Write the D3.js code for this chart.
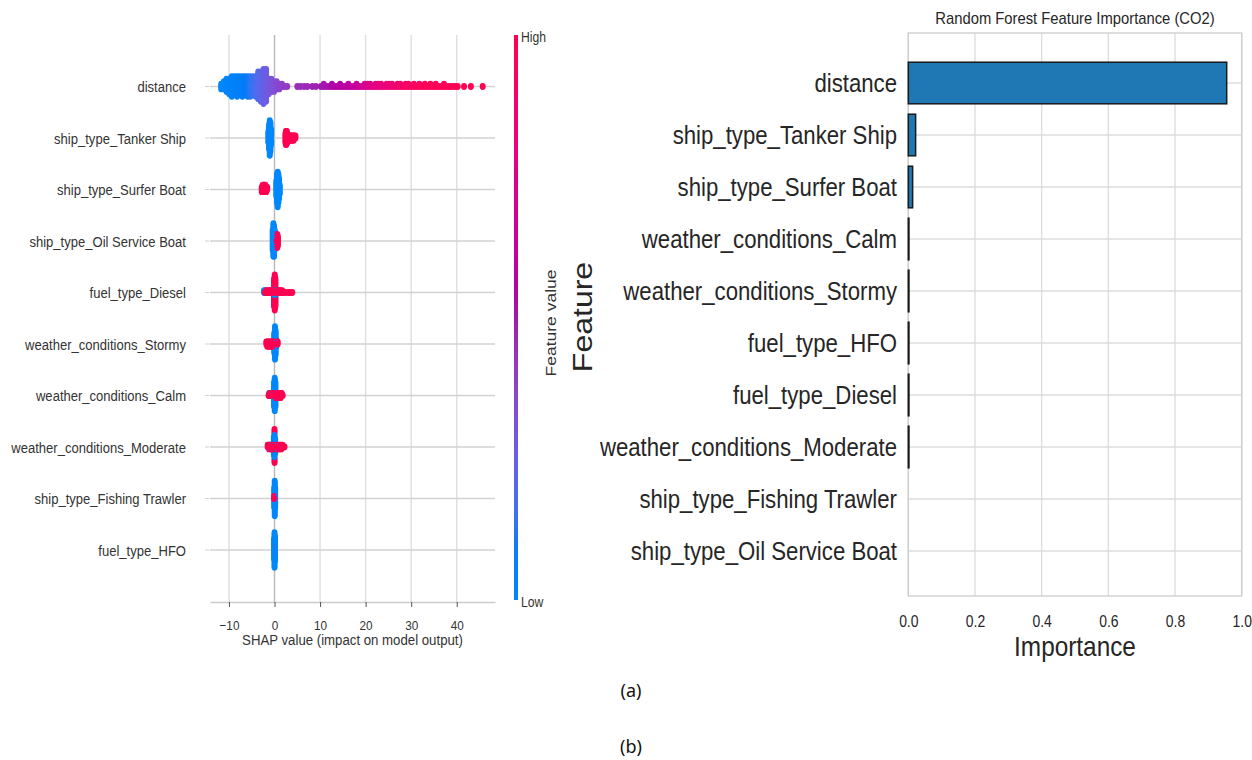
<!DOCTYPE html>
<html>
<head>
<meta charset="utf-8">
<script src="https://cdn.jsdelivr.net/npm/d3@7"></script>
<style>
  body { margin: 0; background: #ffffff; }
  svg { display: block; }
</style>
</head>
<body>
<svg id="fig" width="1252" height="760"></svg>
<script>
// ---------------- data: SHAP beeswarm (panel a) ----------------
// Each entry: [SHAP value, number of samples, normalised feature value 0..1]
const shapFeatures = [
  "distance",
  "ship_type_Tanker Ship",
  "ship_type_Surfer Boat",
  "ship_type_Oil Service Boat",
  "fuel_type_Diesel",
  "weather_conditions_Stormy",
  "weather_conditions_Calm",
  "weather_conditions_Moderate",
  "ship_type_Fishing Trawler",
  "fuel_type_HFO"
];

const shapDistance = [
  [-11.7, 3, 0.02], [-11.12, 4, 0.02], [-10.54, 6, 0.03], [-9.96, 7, 0.03], [-9.38, 9, 0.04],
  [-8.8, 8, 0.05], [-8.22, 9, 0.05], [-7.64, 8, 0.06], [-7.06, 9, 0.07], [-6.48, 8, 0.08],
  [-5.9, 9, 0.1], [-5.32, 9, 0.12], [-4.74, 8, 0.14], [-4.16, 9, 0.17], [-3.58, 12, 0.2],
  [-3.0, 13, 0.22], [-2.42, 15, 0.24], [-1.84, 14, 0.26], [-1.26, 7, 0.29], [-0.68, 6, 0.31],
  [-0.1, 5, 0.33], [0.48, 4, 0.35], [1.06, 3, 0.37], [1.64, 2, 0.39], [2.22, 1, 0.4], [2.8, 1, 0.41],
  [5.0, 1, 0.45], [5.7, 1, 0.46], [6.5, 1, 0.46], [7.2, 1, 0.47], [8.3, 1, 0.48], [9.1, 1, 0.48],
  [10.2, 1, 0.5], [10.8, 2, 0.5], [11.4, 1, 0.52], [12.0, 1, 0.53], [12.6, 2, 0.54], [13.2, 1, 0.55],
  [13.8, 1, 0.56], [14.4, 2, 0.57], [15.0, 1, 0.58], [15.6, 1, 0.59], [16.2, 2, 0.6], [16.8, 1, 0.61],
  [17.4, 1, 0.62], [18.0, 2, 0.64], [18.6, 1, 0.66], [19.2, 1, 0.68], [19.8, 2, 0.7], [20.4, 2, 0.72],
  [21.0, 2, 0.74], [21.6, 1, 0.75], [22.2, 2, 0.77], [22.8, 2, 0.78], [23.4, 2, 0.8], [24.0, 1, 0.81],
  [24.6, 2, 0.82], [25.2, 2, 0.84], [25.8, 2, 0.85], [26.4, 1, 0.86], [27.0, 2, 0.87], [27.6, 2, 0.88],
  [28.2, 1, 0.9], [28.8, 2, 0.91], [29.4, 2, 0.92], [30.0, 1, 0.93], [30.6, 2, 0.94], [31.2, 1, 0.95],
  [31.8, 2, 0.95], [32.4, 1, 0.96], [33.0, 2, 0.96], [33.6, 1, 0.97], [34.2, 2, 0.97], [34.8, 1, 0.98],
  [35.4, 2, 0.98], [36.0, 1, 0.98], [36.6, 1, 0.99], [37.2, 2, 0.99], [37.8, 1, 0.99], [38.4, 1, 1],
  [39.0, 1, 1], [39.6, 1, 1], [40.2, 1, 1], [41.6, 1, 1], [43.1, 1, 1], [45.7, 1, 1]
];

const shapTankerShip = [
  [-1.35, 6, 0], [-1.2, 12, 0], [-1.05, 17, 0], [-0.9, 14, 0], [-0.75, 8, 0],
  [2.4, 5, 1], [2.5, 7, 1], [2.6, 7, 1], [2.7, 6, 1], [2.85, 5, 1], [3.0, 3, 1], [3.2, 3, 1],
  [3.4, 3, 1], [3.6, 3, 1], [3.8, 3, 1], [4.0, 3, 1], [4.2, 3, 1], [4.4, 2, 1], [4.6, 2, 1]
];

const shapSurferBoat = [
  [0.4, 8, 0], [0.55, 14, 0], [0.7, 17, 0], [0.85, 14, 0], [1.0, 10, 0], [1.15, 5, 0],
  [-2.8, 3, 1], [-2.6, 4, 1], [-2.4, 4, 1], [-2.2, 4, 1], [-2.0, 4, 1], [-1.8, 3, 1], [-1.6, 2, 1]
];

const shapOilServiceBoat = [
  [-0.4, 10, 0], [-0.25, 16, 0], [-0.1, 15, 0], [0.05, 10, 0],
  [0.45, 5, 1], [0.6, 7, 1], [0.75, 5, 1]
];

const shapDiesel = [
  [-2.3, 2, 0], [-2.0, 2, 0], [-1.7, 1, 0], [-0.1, 3, 0], [0.05, 5, 0], [0.2, 3, 0], [0.6, 2, 0], [0.9, 2, 0],
  [-2.1, 1, 1], [-1.8, 2, 1], [-1.5, 2, 1], [-1.2, 2, 1], [-0.9, 2, 1], [-0.6, 2, 1], [-0.3, 2, 1],
  [-0.1, 12, 1], [0.05, 14, 1], [0.2, 12, 1], [0.5, 2, 1], [0.8, 2, 1], [1.1, 2, 1], [1.4, 2, 1],
  [1.7, 2, 1], [2.0, 1, 1], [2.4, 1, 1], [3.0, 1, 1], [3.4, 1, 1], [3.9, 1, 1]
];

const shapStormy = [
  [-0.05, 10, 0], [0.1, 16, 0], [0.25, 12, 0], [0.4, 4, 0],
  [-1.8, 2, 1], [-1.6, 3, 1], [-1.4, 3, 1], [-1.2, 3, 1], [-1.0, 3, 1], [-0.8, 3, 1],
  [-0.6, 3, 1], [-0.4, 3, 1], [-0.2, 2, 1], [0.55, 2, 1], [0.7, 2, 1]
];

const shapCalm = [
  [-1.2, 2, 0], [-0.9, 2, 0], [-0.6, 2, 0], [-0.35, 2, 0], [-0.1, 12, 0], [0.05, 16, 0], [0.2, 12, 0],
  [-1.3, 1, 1], [-1.05, 2, 1], [-0.25, 2, 1], [0.35, 3, 1], [0.6, 3, 1], [0.85, 3, 1],
  [1.1, 3, 1], [1.35, 3, 1], [1.6, 2, 1], [1.8, 1, 1]
];

const shapModerate = [
  [-1.3, 2, 0], [-1.0, 2, 0], [-0.7, 2, 0], [-0.15, 10, 0], [0.0, 12, 0], [0.15, 8, 0], [0.5, 2, 0],
  [-1.5, 2, 1], [-1.2, 3, 1], [-0.9, 3, 1], [-0.6, 3, 1], [-0.35, 3, 1], [0.0, 6, 1], [0.3, 3, 1],
  [0.6, 3, 1], [0.9, 3, 1], [1.2, 3, 1], [1.5, 3, 1], [1.8, 2, 1], [2.2, 1, 1]
];

const shapFishingTrawler = [
  [-0.05, 10, 0], [0.05, 17, 0], [0.15, 10, 0],
  [-0.1, 2, 1]
];

const shapHFO = [
  [0.0, 2, 1],
  [-0.1, 10, 0], [0.0, 15, 0], [0.1, 12, 0]
];

const shapRows = [
  shapDistance, shapTankerShip, shapSurferBoat, shapOilServiceBoat, shapDiesel,
  shapStormy, shapCalm, shapModerate, shapFishingTrawler, shapHFO
];

const shapTicks = [-10, 0, 10, 20, 30, 40];
const shapTickLabels = ["\u221210", "0", "10", "20", "30", "40"];

// ---------------- data: random forest importance (panel b) ----------------
const rfFeatures = [
  "distance",
  "ship_type_Tanker Ship",
  "ship_type_Surfer Boat",
  "weather_conditions_Calm",
  "weather_conditions_Stormy",
  "fuel_type_HFO",
  "fuel_type_Diesel",
  "weather_conditions_Moderate",
  "ship_type_Fishing Trawler",
  "ship_type_Oil Service Boat"
];
const rfImportance = [0.955, 0.022, 0.013, 0.002, 0.002, 0.002, 0.002, 0.002, 0, 0];
const rfTicks = [0, 0.2, 0.4, 0.6, 0.8, 1.0];
const rfTickLabels = ["0.0", "0.2", "0.4", "0.6", "0.8", "1.0"];

// ---------------- drawing ----------------
const SX = 0.87; // horizontal squeeze of the exported figure
const FONT = "'Liberation Sans', Arial, Helvetica, sans-serif";
const svg = d3.select("#fig");

function squeezed(parent, x, y, str, size, anchor, fill, rotate) {
  const g = parent.append("g")
    .attr("transform", `translate(${x},${y}) scale(${SX},1)` + (rotate ? ` rotate(${rotate})` : ""));
  return g.append("text")
    .attr("font-family", FONT)
    .attr("font-size", size)
    .attr("text-anchor", anchor)
    .attr("fill", fill)
    .text(str);
}

// SHAP-style beeswarm layout: quantise into 100 bins, stack alternately up/down
function swarm(entries) {
  const pts = [];
  entries.forEach(([v, n, fv]) => { for (let j = 0; j < n; j++) pts.push({ v, fv }); });
  const lo = d3.min(pts, p => p.v), hi = d3.max(pts, p => p.v);
  pts.forEach((p, i) => { p.i = i; p.q = Math.round(100 * (p.v - lo) / (hi - lo + 1e-8)); });
  const order = pts.slice().sort((a, b) => a.q - b.q || a.i - b.i);
  let layer = 0, last = -1;
  order.forEach(p => {
    if (p.q !== last) layer = 0;
    p.k = Math.ceil(layer / 2) * ((layer % 2) * 2 - 1);
    layer++;
    last = p.q;
  });
  return { pts, maxK: d3.max(pts, p => Math.abs(p.k)) };
}

// red-blue feature-value colour map in LCh: lightness dips towards the middle
function colorOf(t) {
  const l = t < 0.5 ? 54 + (40 - 54) * (t / 0.5) : 40 + (54 - 40) * ((t - 0.5) / 0.5);
  const c = 70 + (90 - 70) * t;
  const h = 266.93 + (380.32 - 266.93) * t;
  return d3.hcl(h % 360, c, l).formatHex();
}

// ----- panel (a) -----
const xShap = d3.scaleLinear().domain([-14.16, 48.4]).range([210, 495]);
const yShap = d3.scalePoint().domain(shapFeatures).range([86.5, 550]);

const left = svg.append("g");

left.selectAll("line.vgrid").data(shapTicks).join("line")
  .attr("class", "vgrid")
  .attr("x1", d => xShap(d)).attr("x2", d => xShap(d))
  .attr("y1", 35).attr("y2", 602)
  .attr("stroke", d => d === 0 ? "#b8b8b8" : "#dedede")
  .attr("stroke-width", 1.4);

left.selectAll("line.hgrid").data(shapFeatures).join("line")
  .attr("class", "hgrid")
  .attr("x1", 210).attr("x2", 495)
  .attr("y1", d => yShap(d)).attr("y2", d => yShap(d))
  .attr("stroke", "#d2d2d2")
  .attr("stroke-width", 1.4);

left.selectAll("line.ytick").data(shapFeatures).join("line")
  .attr("class", "ytick")
  .attr("x1", 205).attr("x2", 209)
  .attr("y1", d => yShap(d)).attr("y2", d => yShap(d))
  .attr("stroke", "#cfcfcf").attr("stroke-width", 1);

shapFeatures.forEach((f, r) => {
  const { pts, maxK } = swarm(shapRows[r]);
  const unit = 19.5 / (maxK + 1);
  pts.sort((a, b) => Math.abs(b.k) - Math.abs(a.k) || a.i - b.i);
  left.append("g").selectAll("ellipse").data(pts).join("ellipse")
    .attr("cx", p => xShap(p.v))
    .attr("cy", p => yShap(f) - p.k * unit)
    .attr("rx", 3.0).attr("ry", 3.4)
    .attr("fill", p => colorOf(p.fv));
});

// feature names
const yAxisL = left.append("g").attr("transform", "translate(186,0)")
  .call(d3.axisLeft(yShap).tickSize(0).tickPadding(0));
yAxisL.select(".domain").remove();
yAxisL.selectAll("text")
  .attr("x", 0).attr("dy", "0.34em")
  .attr("transform", `scale(${SX},1)`)
  .attr("font-family", FONT).attr("font-size", 15).attr("fill", "#333333");

// x axis
const xAxisL = left.append("g").attr("transform", "translate(0,602)")
  .call(d3.axisBottom(xShap).tickValues(shapTicks)
    .tickFormat((d, i) => shapTickLabels[i]).tickSizeInner(5).tickSizeOuter(0));
xAxisL.select(".domain").attr("stroke", "#cccccc").attr("stroke-width", 1.4);
xAxisL.selectAll(".tick line").attr("stroke", "#555555");
xAxisL.selectAll("text")
  .attr("y", 0).attr("dy", null)
  .attr("transform", `translate(0,28) scale(${SX},1)`)
  .attr("font-family", FONT).attr("font-size", 13.5).attr("fill", "#333333");

squeezed(left, 352.5, 645, "SHAP value (impact on model output)", 15.2, "middle", "#333333");

// colour bar
const defs = svg.append("defs");
const grad = defs.append("linearGradient").attr("id", "fvGrad")
  .attr("x1", 0).attr("y1", 1).attr("x2", 0).attr("y2", 0);
d3.range(0, 1.0001, 0.05).forEach(t => {
  grad.append("stop").attr("offset", t).attr("stop-color", colorOf(t));
});
left.append("rect").attr("x", 514).attr("y", 35).attr("width", 4).attr("height", 565)
  .attr("fill", "url(#fvGrad)");
squeezed(left, 521, 42, "High", 14, "start", "#333333");
squeezed(left, 521, 607, "Low", 14, "start", "#333333");
squeezed(left, 556, 323, "Feature value", 17.5, "middle", "#333333", -90);

// ----- panel (b) -----
const xRF = d3.scaleLinear().domain([0, 1]).range([908.3, 1241.7]);
const yRF = d3.scaleBand().domain(rfFeatures).range([57, 577]).paddingInner(0.2).paddingOuter(0.1);
const right = svg.append("g");

right.selectAll("line.rvgrid").data(rfTicks).join("line")
  .attr("class", "rvgrid")
  .attr("x1", d => xRF(d)).attr("x2", d => xRF(d))
  .attr("y1", 33).attr("y2", 596)
  .attr("stroke", "#dcdcdc").attr("stroke-width", 1.3);

right.selectAll("line.rhgrid").data(rfFeatures).join("line")
  .attr("class", "rhgrid")
  .attr("x1", xRF(0)).attr("x2", xRF(1))
  .attr("y1", d => yRF(d) + yRF.bandwidth() / 2).attr("y2", d => yRF(d) + yRF.bandwidth() / 2)
  .attr("stroke", "#dcdcdc").attr("stroke-width", 1.3);

right.append("rect")
  .attr("x", xRF(0)).attr("y", 33).attr("width", xRF(1) - xRF(0)).attr("height", 563)
  .attr("fill", "none").attr("stroke", "#cccccc").attr("stroke-width", 1.3);

const rfData = rfFeatures.map((f, i) => ({ f, v: rfImportance[i] })).filter(d => d.v > 0);
right.selectAll("rect.bar").data(rfData).join("rect")
  .attr("class", "bar")
  .attr("x", xRF(0))
  .attr("y", d => yRF(d.f))
  .attr("width", d => xRF(d.v) - xRF(0))
  .attr("height", yRF.bandwidth())
  .attr("fill", "#1f77b4")
  .attr("stroke", "#1a1a1a")
  .attr("stroke-width", 1.5);

const yAxisR = right.append("g").attr("transform", "translate(897,0)")
  .call(d3.axisLeft(yRF).tickSize(0).tickPadding(0));
yAxisR.select(".domain").remove();
yAxisR.selectAll("text")
  .attr("x", 0).attr("dy", "0.35em")
  .attr("transform", `scale(${SX},1)`)
  .attr("font-family", FONT).attr("font-size", 25.5).attr("fill", "#262626");

const xAxisR = right.append("g").attr("transform", "translate(0,596)")
  .call(d3.axisBottom(xRF).tickValues(rfTicks)
    .tickFormat((d, i) => rfTickLabels[i]).tickSize(0));
xAxisR.select(".domain").remove();
xAxisR.selectAll("text")
  .attr("y", 0).attr("dy", null)
  .attr("transform", `translate(0,31) scale(${SX},1)`)
  .attr("font-family", FONT).attr("font-size", 16).attr("fill", "#262626");

squeezed(right, 1075, 24, "Random Forest Feature Importance (CO2)", 17, "middle", "#262626");
squeezed(right, 1075, 656, "Importance", 28, "middle", "#262626");
squeezed(right, 592, 317, "Feature", 32, "middle", "#262626", -90);

// ----- captions -----
svg.append("text").attr("x", 631).attr("y", 697).attr("text-anchor", "middle")
  .attr("font-family", "'Noto Sans', 'Open Sans', sans-serif").attr("font-size", 18)
  .attr("fill", "#111111").text("(a)");
svg.append("text").attr("x", 631).attr("y", 753).attr("text-anchor", "middle")
  .attr("font-family", "'Noto Sans', 'Open Sans', sans-serif").attr("font-size", 18)
  .attr("fill", "#111111").text("(b)");
</script>
</body>
</html>
